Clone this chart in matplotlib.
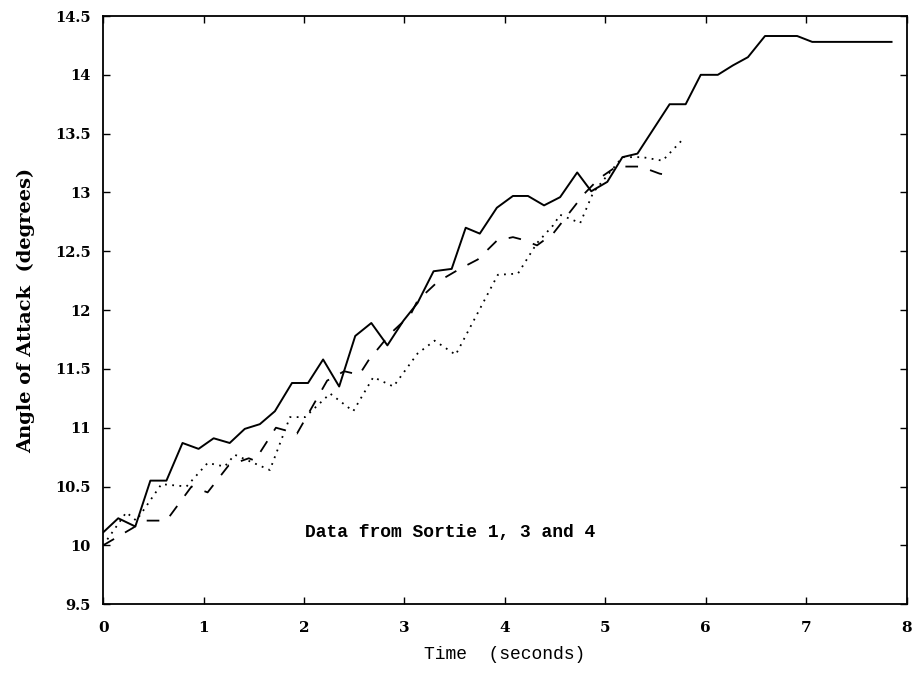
import matplotlib
matplotlib.use("Agg")
import matplotlib.pyplot as plt

# Sortie 1 (solid)
t_solid = [0.00, 0.15, 0.32, 0.47, 0.63, 0.79, 0.95, 1.10, 1.26, 1.41, 1.56, 1.71,
           1.88, 2.04, 2.19, 2.35, 2.51, 2.67, 2.83, 2.99, 3.13, 3.29, 3.47, 3.61,
           3.75, 3.92, 4.08, 4.23, 4.39, 4.55, 4.72, 4.86, 5.02, 5.17, 5.32, 5.48,
           5.64, 5.80, 5.95, 6.12, 6.27, 6.42, 6.59, 6.91, 7.06, 7.85]
aoa_solid = [10.11, 10.23, 10.16, 10.55, 10.55, 10.87, 10.82, 10.91, 10.87, 10.99, 11.03, 11.14,
             11.38, 11.38, 11.58, 11.35, 11.78, 11.89, 11.70, 11.91, 12.06, 12.33, 12.35, 12.70,
             12.65, 12.87, 12.97, 12.97, 12.89, 12.96, 13.17, 13.01, 13.09, 13.30, 13.33, 13.54,
             13.75, 13.75, 14.00, 14.00, 14.08, 14.15, 14.33, 14.33, 14.28, 14.28]

# Sortie 3 (dashed)
t_dash = [0.00, 0.16, 0.30, 0.40, 0.63, 0.88, 1.04, 1.25, 1.45, 1.51, 1.72, 1.93,
          2.23, 2.40, 2.55, 2.64, 2.86, 3.06, 3.13, 3.33, 3.55, 3.73, 3.92, 4.08,
          4.17, 4.32, 4.48, 4.70, 4.78, 4.94, 5.11, 5.35, 5.54, 5.60]
aoa_dash = [10.00, 10.08, 10.15, 10.21, 10.21, 10.50, 10.45, 10.68, 10.74, 10.72, 11.00, 10.95,
            11.40, 11.48, 11.45, 11.57, 11.80, 11.96, 12.08, 12.24, 12.35, 12.43, 12.59, 12.62,
            12.60, 12.55, 12.65, 12.89, 12.98, 13.12, 13.22, 13.22, 13.16, 13.15]

# Sortie 4 (dotted)
t_dot = [0.00, 0.23, 0.33, 0.58, 0.83, 1.04, 1.21, 1.31, 1.66, 1.86, 2.01, 2.26,
         2.49, 2.69, 2.89, 3.13, 3.30, 3.51, 3.93, 4.13, 4.32, 4.48, 4.55, 4.75,
         4.88, 5.17, 5.37, 5.57, 5.77]
aoa_dot = [10.00, 10.28, 10.21, 10.52, 10.50, 10.70, 10.67, 10.77, 10.64, 11.09, 11.09, 11.29,
           11.14, 11.43, 11.35, 11.63, 11.74, 11.62, 12.30, 12.31, 12.57, 12.72, 12.81, 12.74,
           13.00, 13.30, 13.30, 13.27, 13.45]

x_ticks = [0, 1, 2, 3, 4, 5, 6, 7, 8]
y_ticks = [9.5, 10, 10.5, 11, 11.5, 12, 12.5, 13, 13.5, 14, 14.5]
y_tick_labels = ["9.5", "10", "10.5", "11", "11.5", "12", "12.5", "13", "13.5", "14", "14.5"]

plt.rcParams['font.family'] = ['DejaVu Serif']

fig = plt.figure(figsize=(9.13, 6.96), dpi=100)
ax = fig.add_axes([0.113, 0.132, 0.880, 0.845])

ax.plot(t_solid, aoa_solid, color='black', lw=1.4, linestyle='-')
ax.plot(t_dash, aoa_dash, color='black', lw=1.3, linestyle=(0, (7, 7)))
ax.plot(t_dot, aoa_dot, color='black', lw=1.3, linestyle=(0, (1, 3)))

ax.set_xlim(0, 8)
ax.set_ylim(9.5, 14.5)
ax.set_xticks(x_ticks)
ax.set_xticklabels([str(v) for v in x_ticks], fontsize=11, fontweight='bold')
ax.set_yticks(y_ticks)
ax.set_yticklabels(y_tick_labels, fontsize=10.5, fontweight='bold')
ax.tick_params(direction='in', top=True, right=True, length=5, width=1)
ax.tick_params(axis='x', pad=12)
ax.tick_params(axis='y', pad=9)
for s in ax.spines.values():
    s.set_linewidth(1.3)

ax.text(3.45, 10.11, "Data from Sortie 1, 3 and 4", fontsize=13,
        family=['Liberation Mono'], fontweight='bold', ha='center', va='center')

ax.set_xlabel("Time  (seconds)", fontsize=13, family=['Liberation Mono'], labelpad=8)
ax.set_ylabel("Angle of Attack  (degrees)", fontsize=14, fontweight='bold', labelpad=14)

fig.savefig("out.png", dpi=100)
